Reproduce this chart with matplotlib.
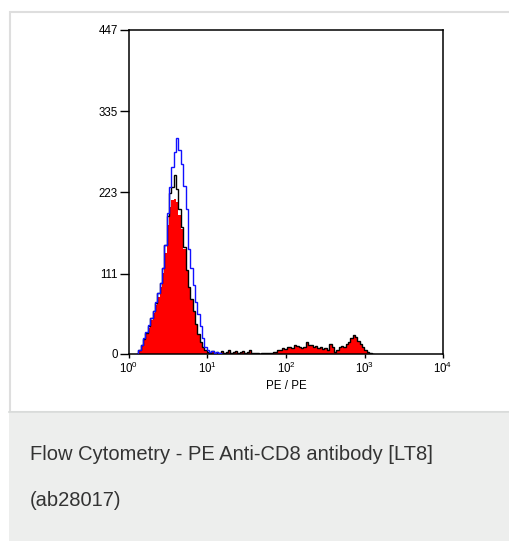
import numpy as np
import matplotlib
matplotlib.use("Agg")
import matplotlib.pyplot as plt
from matplotlib.patches import Rectangle
from matplotlib.lines import Line2D
from matplotlib.ticker import FixedLocator, FixedFormatter, NullLocator

plt.rcParams["font.family"] = ["Liberation Sans", "DejaVu Sans"]
plt.rcParams["mathtext.fontset"] = "custom"
plt.rcParams["mathtext.rm"] = "Liberation Sans"
plt.rcParams["mathtext.it"] = "Liberation Sans"

# channel edges, log10 scale (0.03 decade per channel)
channel_start = 0.09
channel_step = 0.03

# PE Anti-CD8 (red filled)
cd8_red = [0, 5, 11, 19, 27, 36, 47, 56, 68, 79,
           92, 112, 140, 178, 203, 212, 214, 210, 192, 172,
           145, 115, 92, 75, 58, 40, 26, 16, 10, 5,
           3, 2, 4, 1, 3, 2, 4, 2, 3, 5,
           2, 3, 4, 2, 3, 4, 1, 3, 5, 2,
           1, 1, 0, 1, 1, 2, 1, 2, 3, 3,
           5, 6, 8, 7, 9, 10, 8, 12, 11, 9,
           8, 10, 17, 12, 13, 10, 11, 8, 9, 7,
           8, 6, 14, 9, 3, 6, 9, 11, 10, 14,
           17, 22, 26, 24, 18, 14, 9, 6, 3, 1,
           0]

# black outline
cd8_black = [0, 6, 12, 21, 29, 38, 49, 59, 71, 84,
             98, 118, 150, 190, 222, 230, 247, 228, 200, 175,
             147, 116, 93, 76, 59, 41, 27, 17, 10, 5,
             3, 2, 4, 1, 3, 2, 4, 2, 3, 5,
             2, 3, 4, 2, 3, 4, 1, 3, 5, 2,
             1, 1, 0, 1, 1, 2, 1, 2, 3, 3,
             5, 6, 8, 7, 9, 10, 8, 12, 11, 9,
             8, 10, 17, 12, 13, 10, 11, 8, 9, 7,
             8, 6, 14, 9, 3, 6, 9, 11, 10, 14,
             17, 22, 26, 24, 18, 14, 9, 6, 3, 1,
             0]

# blue outline
cd8_blue = [0, 6, 13, 22, 30, 40, 50, 60, 72, 84,
            98, 118, 150, 195, 230, 258, 278, 298, 282, 262,
            232, 200, 145, 118, 95, 72, 55, 38, 22, 10,
            5, 3, 4, 2, 3, 1, 0]

y_ticks = [0, 111, 223, 335, 447]
x_ticks = [1, 10, 100, 1000, 10000]
x_labels = ["$10^{0}$", "$10^{1}$", "$10^{2}$", "$10^{3}$", "$10^{4}$"]
caption_1 = "Flow Cytometry - PE Anti-CD8 antibody [LT8]"
caption_2 = "(ab28017)"

W, H = 510, 541
fig = plt.figure(figsize=(W / 100, H / 100), dpi=100)

# card frame and caption box
fig.add_artist(Rectangle((10 / W, 1 - 412 / H), 510 / W, 400 / H,
                         transform=fig.transFigure, facecolor="white",
                         edgecolor="#dedede", linewidth=1.5, zorder=0))
fig.add_artist(Rectangle((9 / W, 0), 502 / W, 129 / H,
                         transform=fig.transFigure, facecolor="#edeeed",
                         edgecolor="none", zorder=1))
fig.add_artist(Line2D([9 / W, 1], [129 / H, 129 / H], transform=fig.transFigure,
                      color="#d9dbda", linewidth=1.2, zorder=2))

ax = fig.add_axes([129 / W, 1 - 354 / H, 314 / W, 324 / H])

def edges(n):
    return 10 ** (channel_start + channel_step * np.arange(n + 1))

ax.stairs(cd8_red, edges(len(cd8_red)), fill=True, color="#ff0000", zorder=2)
ax.stairs(cd8_black, edges(len(cd8_black)), color="black", linewidth=1.0, zorder=3)
ax.stairs(cd8_blue, edges(len(cd8_blue)), color="#1010ff", linewidth=1.0, zorder=4)

ax.set_xscale("log")
ax.set_xlim(1, 10000)
ax.set_ylim(0, 447)
ax.xaxis.set_major_locator(FixedLocator(x_ticks))
ax.xaxis.set_major_formatter(FixedFormatter(x_labels))
ax.xaxis.set_minor_locator(NullLocator())
ax.set_yticks(y_ticks)
ax.set_yticklabels([str(v) for v in y_ticks])

for s in ax.spines.values():
    s.set_linewidth(1.1)
ax.tick_params(axis="y", length=6.5, width=1.0, pad=1.5, labelsize=8.3)
ax.tick_params(axis="x", length=3, width=1.0, pad=2, labelsize=8.3)
ax.set_xlabel("PE / PE", fontsize=8.3, labelpad=3)

fig.text(30 / W, 1 - 455 / H, caption_1, fontsize=14.5, color="#333333",
         va="center", ha="left")
fig.text(30 / W, 1 - 500 / H, caption_2, fontsize=14.5, color="#333333",
         va="center", ha="left")

fig.savefig("out.png", dpi=100)
